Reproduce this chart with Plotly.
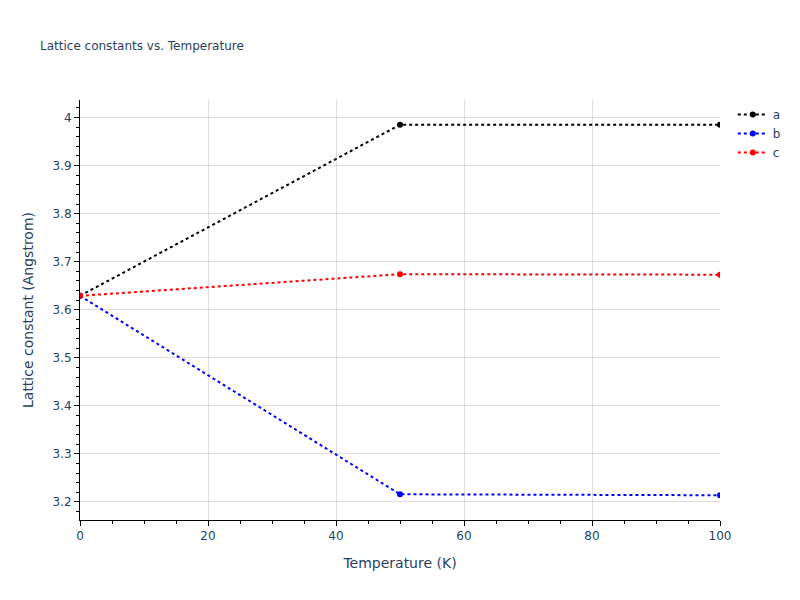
import plotly.graph_objects as go

temperature = [0, 50, 100]
lattice_a = [3.629, 3.985, 3.985]
lattice_b = [3.629, 3.216, 3.214]
lattice_c = [3.629, 3.674, 3.673]

series = [('a', lattice_a, 'black'), ('b', lattice_b, 'blue'), ('c', lattice_c, 'red')]

fig = go.Figure()
for name, values, color in series:
    fig.add_trace(go.Scatter(
        x=temperature,
        y=values,
        name=name,
        mode='lines+markers',
        line=dict(color=color, dash='dot', width=2),
        marker=dict(color=color, size=6),
    ))

axis_template = dict(
    showline=True,
    linecolor='black',
    linewidth=1,
    ticks='outside',
    tickcolor='black',
    ticklen=5,
    showgrid=True,
    gridcolor='#dddddd',
    zeroline=False,
    minor=dict(ticks='outside', ticklen=3, tickcolor='black', showgrid=False),
)

fig.update_layout(
    width=800,
    height=600,
    plot_bgcolor='white',
    paper_bgcolor='white',
    title=dict(text='Lattice constants vs. Temperature', font=dict(size=12)),
    font=dict(family='DejaVu Sans', color='#2a3f5f', size=12),
)
fig.update_xaxes(axis_template, title_text='Temperature (K)', dtick=20, minor_dtick=5, range=[0, 100])
fig.update_yaxes(axis_template, title_text='Lattice constant (Angstrom)', dtick=0.1, minor_dtick=0.02)

fig.write_html('out.html', config={'displayModeBar': False},
               post_script="document.body.style.margin='0';")
